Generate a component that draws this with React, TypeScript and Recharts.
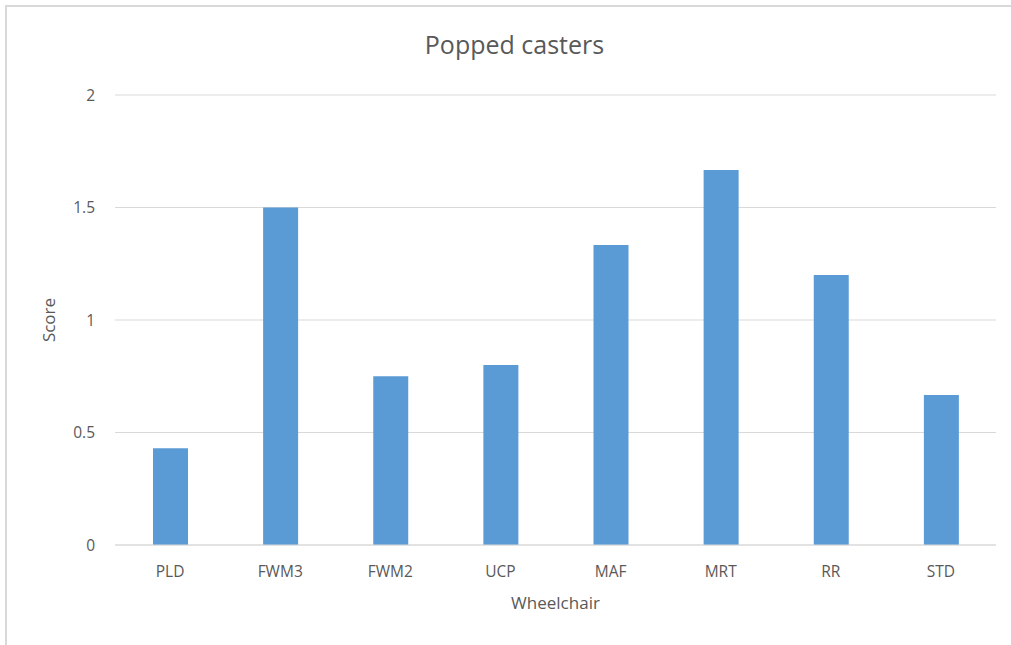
import React from 'react'
import { BarChart, Bar, XAxis, YAxis, CartesianGrid, Label } from 'recharts'

// ── Data ─────────────────────────────────────────────────────────────────────

const wheelchairs = ['PLD', 'FWM3', 'FWM2', 'UCP', 'MAF', 'MRT', 'RR', 'STD']
const scores = [0.43, 1.5, 0.75, 0.8, 1.333, 1.667, 1.2, 0.667]
const scoreTicks = [0, 0.5, 1, 1.5, 2]

const data = wheelchairs.map((name, i) => ({ name, score: scores[i] }))

// ── Styles ───────────────────────────────────────────────────────────────────

const FONT = '"Open Sans", "Noto Sans", sans-serif'
const tickStyle = { fill: '#595959', fontSize: 15.5, fontFamily: FONT }

export default function App() {
  return (
    <div style={{ position: 'absolute', left: 0, top: 0, width: 1011, height: 645, background: '#fff', overflow: 'hidden' }}>
      <div style={{
        position: 'absolute', left: 5, top: 5, width: 1100, height: 700,
        borderLeft: '2px solid #d9d9d9', borderTop: '2px solid #d9d9d9',
      }} />
      <div style={{
        position: 'absolute', left: 0, top: 27, width: 1029, textAlign: 'center',
        fontFamily: FONT, fontSize: 25, color: '#595959',
      }}>
        Popped casters
      </div>
      <div style={{ position: 'absolute', left: 0, top: 0 }}>
        <BarChart width={1011} height={645} data={data} barSize={35}
          margin={{ top: 95, right: 15, bottom: 0, left: 35 }}>
          <CartesianGrid stroke="#d9d9d9" vertical={false} />
          <XAxis dataKey="name" tick={tickStyle} tickLine={false} tickSize={0} tickMargin={21}
            axisLine={{ stroke: '#d9d9d9' }} height={100} interval={0}>
            <Label value="Wheelchair" position="insideTop" offset={52}
              style={{ fill: '#595959', fontSize: 17, fontFamily: FONT }} />
          </XAxis>
          <YAxis domain={[0, 2]} ticks={scoreTicks} tick={tickStyle} tickLine={false} tickSize={0}
            tickMargin={20} axisLine={false} width={80}>
            <Label value="Score" angle={-90} position="insideLeft" offset={14}
              style={{ fill: '#595959', fontSize: 17, fontFamily: FONT, textAnchor: 'middle' }} />
          </YAxis>
          <Bar dataKey="score" fill="#5b9bd5" isAnimationActive={false} />
        </BarChart>
      </div>
    </div>
  )
}
